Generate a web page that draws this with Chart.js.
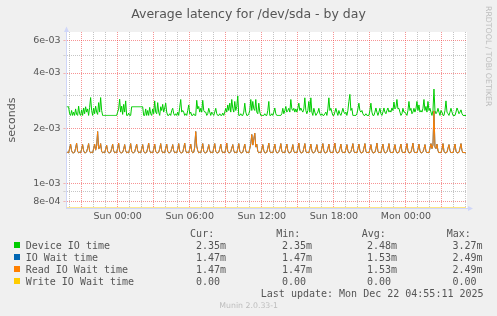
<!DOCTYPE html>
<html>
<head>
<meta charset="utf-8">
<title>Average latency for /dev/sda - by day</title>
<script src="https://cdn.jsdelivr.net/npm/chart.js@4.4.1/dist/chart.umd.min.js"></script>
<style>
  html, body { margin: 0; padding: 0; background: #f0f0f0; }
  canvas { display: block; }
</style>
</head>
<body>
<canvas id="latency" width="497" height="316"></canvas>
<script>
// samples every 5 minutes, hours counted from Sun 00:00 (first one is Sat 19:45)
const firstSampleHour = -4.25;
const sampleStepHours = 5 / 60;

// Device IO time, milliseconds
const deviceIoTime = [
  2.62, 2.62, 2.62, 2.40, 2.35, 2.50, 2.35, 2.45, 2.35, 2.55, 2.38, 2.35, 2.64, 2.40, 2.35, 2.52, 2.35, 2.58, 2.40, 2.62,
  2.45, 2.55, 2.35, 2.60, 2.94, 2.50, 2.35, 2.58, 2.40, 2.64, 2.45, 2.38, 2.76, 2.45, 2.94, 2.50, 2.35, 2.35, 2.35, 2.35,
  2.35, 2.35, 2.35, 2.35, 2.35, 2.35, 2.35, 2.35, 2.35, 2.35, 2.35, 2.45, 2.55, 2.88, 2.45, 2.64, 2.38, 2.70, 2.45, 2.82,
  2.35, 2.35, 2.42, 2.35, 2.35, 2.62, 2.62, 2.62, 2.62, 2.62, 2.62, 2.62, 2.62, 2.62, 2.62, 2.62, 2.62, 2.35, 2.35, 2.55,
  2.35, 2.50, 2.35, 2.60, 2.40, 2.35, 2.55, 2.40, 2.82, 2.45, 2.40, 2.76, 2.45, 2.35, 2.62, 2.50, 2.70, 2.45, 2.58, 2.74,
  2.45, 2.35, 2.35, 2.40, 2.35, 2.50, 2.57, 2.40, 2.35, 2.40, 2.35, 2.45, 2.35, 2.60, 2.87, 2.45, 2.50, 2.45, 2.35, 2.40,
  2.35, 2.50, 2.68, 2.40, 2.45, 2.35, 2.35, 2.40, 2.35, 2.35, 2.84, 2.55, 2.63, 2.45, 2.57, 2.45, 2.84, 2.50, 2.45, 2.45,
  2.35, 2.40, 2.57, 2.45, 2.35, 2.45, 2.40, 2.35, 2.45, 2.57, 2.40, 2.35, 2.35, 2.40, 2.35, 2.35, 2.42, 2.35, 2.45, 2.57,
  2.45, 2.68, 2.50, 2.74, 2.45, 2.87, 2.57, 2.45, 2.80, 2.50, 2.63, 3.00, 2.35, 2.35, 2.40, 2.35, 2.35, 2.45, 2.74, 2.45,
  2.35, 2.35, 2.40, 2.50, 2.87, 2.50, 2.80, 2.55, 2.50, 2.87, 2.45, 2.40, 2.74, 2.45, 2.35, 2.35, 2.35, 2.35, 2.40, 2.35,
  2.35, 2.50, 2.80, 2.35, 2.35, 2.40, 2.35, 2.45, 2.58, 2.40, 2.35, 2.35, 2.35, 2.35, 2.35, 2.40, 2.57, 2.40, 2.50, 2.63,
  2.45, 2.50, 2.57, 2.45, 2.87, 2.55, 2.50, 2.57, 2.45, 2.55, 2.45, 2.57, 2.74, 2.50, 2.58, 2.50, 2.45, 2.55, 2.93, 2.50,
  2.40, 2.50, 2.80, 2.45, 2.93, 2.45, 2.35, 2.57, 2.45, 2.35, 2.40, 2.45, 2.57, 2.40, 2.35, 2.40, 2.35, 2.35, 2.40, 2.45,
  2.35, 2.55, 2.93, 2.50, 2.57, 2.45, 2.35, 2.35, 2.45, 2.57, 2.45, 2.35, 2.50, 2.40, 2.35, 2.45, 2.57, 2.45, 2.40, 2.45,
  2.35, 2.50, 2.80, 3.06, 2.50, 2.57, 2.35, 2.35, 2.35, 2.35, 2.40, 2.55, 2.74, 2.50, 2.45, 2.50, 2.40, 2.35, 2.35, 2.40,
  2.35, 2.35, 2.35, 2.50, 2.74, 2.45, 2.35, 2.35, 2.45, 2.58, 2.45, 2.35, 2.45, 2.57, 2.40, 2.35, 2.45, 2.58, 2.45, 2.40,
  2.50, 2.58, 2.45, 2.50, 2.45, 2.58, 2.50, 2.78, 2.55, 2.60, 2.87, 2.55, 2.57, 2.45, 2.35, 2.40, 2.57, 2.45, 2.45, 2.40,
  2.35, 2.50, 2.80, 2.50, 2.57, 2.40, 2.45, 2.57, 2.45, 2.55, 2.80, 2.50, 2.68, 2.45, 2.50, 2.45, 2.57, 2.87, 2.50, 2.63,
  2.45, 2.80, 2.50, 2.57, 2.45, 2.35, 2.50, 3.27, 2.50, 2.40, 2.45, 2.57, 2.45, 2.35, 2.50, 2.45, 2.35, 2.35, 2.50, 2.82,
  2.45, 2.40, 2.35, 2.45, 2.57, 2.45, 2.35, 2.35, 2.35, 2.45, 2.58, 2.50, 2.40, 2.45, 2.52, 2.40, 2.35, 2.35, 2.35, 2.35
];

// Read IO Wait time, milliseconds
const readIoWaitTime = [
  1.47, 1.48, 1.47, 1.55, 1.64, 1.51, 1.47, 1.47, 1.48, 1.56, 1.66, 1.50, 1.47, 1.48, 1.47, 1.54, 1.63, 1.51, 1.47, 1.47, 1.49, 1.56, 1.65, 1.50,
  1.47, 1.48, 1.47, 1.55, 1.64, 1.52, 1.60, 1.92, 1.55, 1.56, 1.65, 1.50, 1.47, 1.48, 1.47, 1.54, 1.62, 1.50, 1.47, 1.47, 1.48, 1.55, 1.64, 1.51,
  1.47, 1.48, 1.47, 1.56, 1.66, 1.50, 1.47, 1.47, 1.48, 1.54, 1.63, 1.51, 1.47, 1.48, 1.47, 1.55, 1.65, 1.50, 1.47, 1.47, 1.49, 1.56, 1.64, 1.51,
  1.47, 1.48, 1.47, 1.55, 1.63, 1.50, 1.47, 1.47, 1.48, 1.56, 1.66, 1.51, 1.47, 1.48, 1.47, 1.54, 1.64, 1.50, 1.47, 1.47, 1.48, 1.55, 1.65, 1.51,
  1.47, 1.48, 1.47, 1.56, 1.64, 1.50, 1.47, 1.47, 1.49, 1.55, 1.63, 1.51, 1.47, 1.48, 1.47, 1.54, 1.65, 1.50, 1.47, 1.47, 1.48, 1.56, 1.66, 1.51,
  1.47, 1.48, 1.47, 1.55, 1.64, 1.50, 1.47, 1.48, 1.58, 1.92, 1.60, 1.51, 1.47, 1.48, 1.47, 1.55, 1.65, 1.50, 1.47, 1.47, 1.48, 1.54, 1.63, 1.51,
  1.47, 1.48, 1.47, 1.56, 1.65, 1.50, 1.47, 1.47, 1.48, 1.55, 1.64, 1.51, 1.47, 1.48, 1.47, 1.54, 1.66, 1.50, 1.47, 1.47, 1.49, 1.56, 1.63, 1.51,
  1.47, 1.48, 1.47, 1.55, 1.65, 1.50, 1.47, 1.47, 1.48, 1.56, 1.64, 1.51, 1.47, 1.48, 1.47, 1.55, 1.65, 1.85, 1.62, 1.75, 1.88, 1.58, 1.64, 1.50,
  1.47, 1.48, 1.47, 1.54, 1.63, 1.51, 1.47, 1.47, 1.48, 1.56, 1.66, 1.50, 1.47, 1.48, 1.47, 1.55, 1.64, 1.51, 1.47, 1.47, 1.49, 1.55, 1.65, 1.50,
  1.47, 1.48, 1.47, 1.56, 1.64, 1.51, 1.47, 1.47, 1.48, 1.54, 1.63, 1.50, 1.47, 1.48, 1.47, 1.55, 1.66, 1.51, 1.47, 1.47, 1.48, 1.56, 1.65, 1.50,
  1.47, 1.48, 1.47, 1.55, 1.64, 1.51, 1.47, 1.47, 1.49, 1.54, 1.63, 1.50, 1.47, 1.48, 1.47, 1.56, 1.65, 1.51, 1.47, 1.47, 1.48, 1.55, 1.64, 1.50,
  1.47, 1.48, 1.47, 1.56, 1.66, 1.51, 1.47, 1.47, 1.48, 1.55, 1.64, 1.50, 1.47, 1.48, 1.47, 1.54, 1.63, 1.51, 1.47, 1.47, 1.49, 1.56, 1.65, 1.50,
  1.47, 1.48, 1.47, 1.55, 1.64, 1.51, 1.47, 1.47, 1.48, 1.56, 1.65, 1.50, 1.47, 1.48, 1.47, 1.54, 1.63, 1.51, 1.47, 1.47, 1.48, 1.55, 1.66, 1.50,
  1.47, 1.48, 1.47, 1.56, 1.64, 1.51, 1.47, 1.47, 1.49, 1.55, 1.65, 1.50, 1.47, 1.48, 1.47, 1.54, 1.63, 1.51, 1.47, 1.47, 1.48, 1.56, 1.64, 1.50,
  1.47, 1.48, 1.47, 1.55, 1.65, 1.51, 1.47, 1.47, 1.48, 1.56, 1.66, 1.50, 1.47, 1.48, 1.47, 1.54, 1.64, 1.51, 1.47, 1.47, 1.49, 1.55, 1.63, 1.50,
  1.47, 1.48, 1.47, 1.56, 1.65, 1.55, 1.62, 2.49, 1.58, 1.55, 1.64, 1.51, 1.47, 1.48, 1.47, 1.54, 1.65, 1.50, 1.47, 1.47, 1.48, 1.56, 1.63, 1.51,
  1.47, 1.48, 1.47, 1.55, 1.64, 1.50, 1.47, 1.47, 1.48, 1.56, 1.65, 1.51, 1.47, 1.48, 1.47, 1.47
];

// IO Wait time sits exactly under Read IO Wait time in the source graph
const ioWaitTime = readIoWaitTime.slice();
// Write IO Wait time is 0.00 for the whole day
const writeIoWaitTime = new Array(deviceIoTime.length).fill(0);

const seriesNames = ['Device IO time', 'IO Wait time', 'Read IO Wait time', 'Write IO Wait time'];
const seriesColors = ['#00cc00', '#0066b3', '#ff8000', '#ffcc00'];

// legend columns, as printed under the graph
const legendHeaders = ['Cur:', 'Min:', 'Avg:', 'Max:'];
const legendCur = ['2.35m', '1.47m', '1.47m', '0.00'];
const legendMin = ['2.35m', '1.47m', '1.47m', '0.00'];
const legendAvg = ['2.48m', '1.53m', '1.53m', '0.00'];
const legendMax = ['3.27m', '2.49m', '2.49m', '0.00'];

// y axis (log)
const yMajorTicks = [8e-4, 1e-3, 2e-3, 4e-3, 6e-3];
const yMajorLabels = ['8e-04', '1e-03', '2e-03', '4e-03', '6e-03'];
const yMinorTicks = [9e-4, 3e-3, 5e-3];
const yAxisMin = 7.36e-4;
const yAxisMax = 6.69e-3;

// x axis, hours from Sun 00:00
const xLabelHours = [0, 6, 12, 18, 24];
const xLabels = ['Sun 00:00', 'Sun 06:00', 'Sun 12:00', 'Sun 18:00', 'Mon 00:00'];

const TEXT = '#555555';
const AXIS = '#cfd6f8';
const MAJOR_GRID = 'rgba(240, 60, 60, 0.55)';
const MINOR_GRID = 'rgba(140, 140, 140, 0.5)';

function toPoints(msValues) {
  // log axis can't show 0, rrdtool pins those to the bottom edge, so do the same
  return msValues.map((v, i) => ({
    x: firstSampleHour + i * sampleStepHours,
    y: Math.max(v / 1000, yAxisMin)
  }));
}

const xMin = firstSampleHour;
const xMax = firstSampleHour + deviceIoTime.length * sampleStepHours;

const muninFrame = {
  id: 'muninFrame',
  beforeDraw(chart) {
    const { ctx, chartArea: a } = chart;
    ctx.save();
    ctx.fillStyle = '#f0f0f0';
    ctx.fillRect(0, 0, chart.width, chart.height);
    ctx.fillStyle = '#ffffff';
    const left = Math.round(a.left);
    ctx.fillRect(left, a.top, a.right - left, a.bottom - a.top);
    ctx.restore();
  },
  afterDraw(chart) {
    const { ctx, chartArea: a } = chart;
    ctx.save();

    // axis arrows
    const ax = Math.floor(a.left) + 0.5;
    ctx.fillStyle = AXIS;
    ctx.beginPath();
    ctx.moveTo(ax, a.top - 5.5);
    ctx.lineTo(ax - 2.5, a.top);
    ctx.lineTo(ax + 2.5, a.top);
    ctx.closePath();
    ctx.fill();
    ctx.fillRect(a.right, a.bottom, 2, 1);
    ctx.beginPath();
    ctx.moveTo(a.right + 6, a.bottom + 0.5);
    ctx.lineTo(a.right + 1, a.bottom - 2);
    ctx.lineTo(a.right + 1, a.bottom + 3);
    ctx.closePath();
    ctx.fill();

    // title
    ctx.fillStyle = TEXT;
    ctx.font = '12.5px "DejaVu Sans"';
    ctx.textAlign = 'center';
    ctx.textBaseline = 'alphabetic';
    ctx.fillText('Average latency for /dev/sda - by day', chart.width / 2, 18);

    // unit label
    ctx.save();
    ctx.translate(15, (a.top + a.bottom) / 2);
    ctx.rotate(-Math.PI / 2);
    ctx.font = '11px "DejaVu Sans"';
    ctx.fillText('seconds', 0, 0);
    ctx.restore();

    // watermark on the right
    ctx.save();
    ctx.translate(486, 6);
    ctx.rotate(Math.PI / 2);
    ctx.textAlign = 'left';
    ctx.fillStyle = '#bdbdbd';
    ctx.font = '7.8px "DejaVu Sans"';
    ctx.fillText('RRDTOOL / TOBI OETIKER', 0, 0);
    ctx.restore();

    // legend table
    ctx.font = '10px "DejaVu Sans Mono"';
    ctx.textAlign = 'left';
    const headerX = [190.1, 276.2, 361.8, 446.8];
    const valueX = [195.9, 281.9, 366.9, 452.5];
    legendHeaders.forEach((h, c) => ctx.fillText(h, headerX[c], 237));
    const columns = [legendCur, legendMin, legendAvg, legendMax];
    seriesNames.forEach((name, r) => {
      const y = 249 + r * 12;
      ctx.fillStyle = seriesColors[r];
      ctx.fillRect(14, y - 7, 6, 6);
      ctx.fillStyle = TEXT;
      ctx.fillText(name, 25.7, y);
      columns.forEach((col, c) => ctx.fillText(col[r], valueX[c], y));
    });
    ctx.fillText('Last update: Mon Dec 22 04:55:11 2025', 260.8, 297);

    ctx.fillStyle = '#bdbdbd';
    ctx.font = '7.8px "DejaVu Sans"';
    ctx.textAlign = 'center';
    ctx.fillText('Munin 2.0.33-1', 248.7, 308);

    ctx.restore();
  }
};

function line(label, values, color, order) {
  return {
    label: label,
    data: toPoints(values),
    borderColor: color,
    backgroundColor: color,
    borderWidth: 1,
    pointRadius: 0,
    tension: 0,
    fill: false,
    order: order
  };
}

new Chart(document.getElementById('latency'), {
  type: 'line',
  data: {
    datasets: [
      line(seriesNames[0], deviceIoTime, seriesColors[0], 3),
      line(seriesNames[1], ioWaitTime, seriesColors[1], 2),
      line(seriesNames[2], readIoWaitTime, seriesColors[2], 1),
      line(seriesNames[3], writeIoWaitTime, seriesColors[3], 0)
    ]
  },
  options: {
    responsive: false,
    maintainAspectRatio: false,
    animation: false,
    layout: { padding: { top: 32, right: 30, left: 0, bottom: 0 } },
    plugins: {
      legend: { display: false },
      tooltip: { enabled: false },
      title: { display: false }
    },
    scales: {
      x: {
        type: 'linear',
        min: xMin,
        max: xMax,
        bounds: 'data',
        afterBuildTicks: scale => {
          const ticks = [];
          for (let h = Math.ceil(xMin); h <= Math.floor(xMax); h++) ticks.push({ value: h });
          scale.ticks = ticks;
        },
        afterFit: scale => { scale.height = 108; },
        grid: {
          color: ctx => (ctx.tick && ctx.tick.value % 3 === 0 ? MAJOR_GRID : MINOR_GRID),
          drawTicks: false
        },
        border: { color: AXIS, width: 1, dash: [1, 1] },
        ticks: {
          autoSkip: false,
          maxRotation: 0,
          padding: 3,
          color: TEXT,
          font: { family: 'DejaVu Sans', size: 9.5 },
          callback: v => {
            const k = xLabelHours.indexOf(v);
            return k >= 0 ? xLabels[k] : '';
          }
        }
      },
      y: {
        type: 'logarithmic',
        min: yAxisMin,
        max: yAxisMax,
        bounds: 'data',
        afterBuildTicks: scale => {
          scale.ticks = yMajorTicks.concat(yMinorTicks)
            .sort((p, q) => p - q)
            .map(v => ({ value: v }));
        },
        afterFit: scale => { scale.width = 66.6; },
        grid: {
          color: ctx => (ctx.tick && yMajorTicks.includes(ctx.tick.value) ? MAJOR_GRID : MINOR_GRID),
          tickBorderDash: [1, 1],
          tickLength: 3
        },
        border: { color: AXIS, width: 1, dash: [1, 1] },
        ticks: {
          autoSkip: false,
          padding: 3,
          color: TEXT,
          font: { family: 'DejaVu Sans', size: 9.5 },
          callback: v => {
            const k = yMajorTicks.indexOf(v);
            return k >= 0 ? yMajorLabels[k] : '';
          }
        }
      }
    }
  },
  plugins: [muninFrame]
});
</script>
</body>
</html>
